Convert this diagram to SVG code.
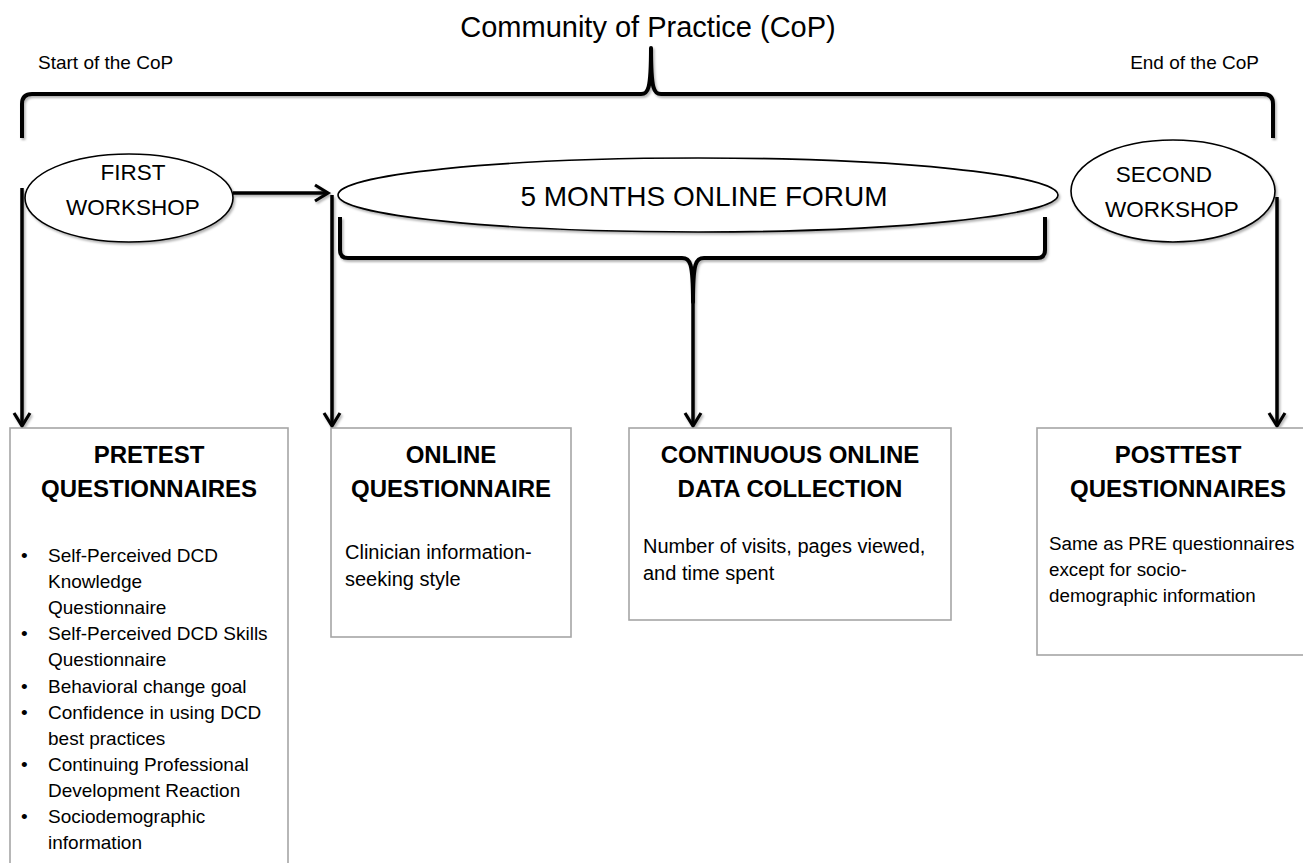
<svg xmlns="http://www.w3.org/2000/svg" width="1303" height="863" viewBox="0 0 1303 863">
  <style>
    text { font-family: "Liberation Sans", Arial, sans-serif; fill: #000; }
    .title { font-size: 29px; text-anchor: middle; }
    .note { font-size: 19px; }
    .oval { fill: #fff; stroke: #000; stroke-width: 1.6; }
    .oval-label { font-size: 22.5px; text-anchor: middle; }
    .forum-label { font-size: 28px; text-anchor: middle; }
    .box { fill: #fff; stroke: #a6a6a6; stroke-width: 1.6; }
    .head { font-size: 24px; font-weight: bold; text-anchor: middle; }
    .body { font-size: 20px; }
    .body-narrow { font-size: 18.8px; }
    .bullet { font-size: 19px; }
    .brace { fill: none; stroke: #000; stroke-width: 4; stroke-linejoin: round; stroke-linecap: butt; }
    .flow { fill: none; stroke: #000; stroke-width: 3.5; marker-end: url(#chevron); }
  </style>
  <defs>
    <marker id="chevron" viewBox="0 0 20 20" refX="16" refY="10" markerWidth="20" markerHeight="20" markerUnits="userSpaceOnUse" orient="auto">
      <path d="M3,2 L16,10 L3,18" fill="none" stroke="#000" stroke-width="3.2" stroke-linejoin="miter"/>
    </marker>
    <filter id="soft-shadow" x="-5%" y="-5%" width="110%" height="120%">
      <feDropShadow dx="1.5" dy="2" stdDeviation="1.2" flood-color="#000" flood-opacity="0.3"/>
    </filter>
  </defs>

  <rect width="1303" height="863" fill="#fff"/>

  <!-- headings above the timeline -->
  <g id="cop-title">
    <text class="title" x="648" y="37">Community of Practice (CoP)</text>
    <text class="note" x="38" y="69">Start of the CoP</text>
    <text class="note" x="1259" y="69" text-anchor="end">End of the CoP</text>
  </g>

  <!-- braces and arrows -->
  <g id="connectors" filter="url(#soft-shadow)">
    <path class="brace" d="M22,138 L22,104 Q22,94 32,94 L641,94 C648,94 651,90 651,48 C651,90 654,94 661,94 L1263,94 Q1273,94 1273,104 L1273,138"/>
    <path class="brace" d="M340,217 L340,250 Q340,258 348,258 L682,258 C690,258 693,262 693,302 C693,262 696,258 704,258 L1037,258 Q1045,258 1045,250 L1045,217"/>
    <path class="flow" d="M22,188 L22,426"/>
    <path class="flow" d="M233,193 L328,193"/>
    <path class="flow" d="M332,195 L332,426"/>
    <path class="flow" d="M693,298 L693,426"/>
    <path class="flow" d="M1277,197 L1277,426"/>
  </g>

  <g id="first-workshop">
    <ellipse class="oval" cx="129" cy="198" rx="104" ry="44" filter="url(#soft-shadow)"/>
    <text class="oval-label" x="133" y="180">FIRST</text>
    <text class="oval-label" x="133" y="215">WORKSHOP</text>
  </g>

  <g id="online-forum">
    <ellipse class="oval" cx="698" cy="195" rx="360" ry="37" filter="url(#soft-shadow)"/>
    <text class="forum-label" x="704" y="206">5 MONTHS ONLINE FORUM</text>
  </g>

  <g id="second-workshop">
    <ellipse class="oval" cx="1173" cy="191" rx="102" ry="51" filter="url(#soft-shadow)"/>
    <text class="oval-label" x="1164" y="182">SECOND</text>
    <text class="oval-label" x="1172" y="217">WORKSHOP</text>
  </g>

  <g id="pretest">
    <rect class="box" x="10" y="428" width="278" height="460"/>
    <text class="head" x="149" y="463">PRETEST</text>
    <text class="head" x="149" y="497">QUESTIONNAIRES</text>
    <g class="bullet">
      <text x="21" y="562">•</text>
      <text x="48" y="562">Self-Perceived DCD</text>
      <text x="48" y="588">Knowledge</text>
      <text x="48" y="614">Questionnaire</text>
      <text x="21" y="640">•</text>
      <text x="48" y="640">Self-Perceived DCD Skills</text>
      <text x="48" y="666">Questionnaire</text>
      <text x="21" y="693">•</text>
      <text x="48" y="693">Behavioral change goal</text>
      <text x="21" y="719">•</text>
      <text x="48" y="719">Confidence in using DCD</text>
      <text x="48" y="745">best practices</text>
      <text x="21" y="771">•</text>
      <text x="48" y="771">Continuing Professional</text>
      <text x="48" y="797">Development Reaction</text>
      <text x="21" y="823">•</text>
      <text x="48" y="823">Sociodemographic</text>
      <text x="48" y="849">information</text>
    </g>
  </g>

  <g id="online-questionnaire">
    <rect class="box" x="331" y="428" width="240" height="209"/>
    <text class="head" x="451" y="463">ONLINE</text>
    <text class="head" x="451" y="497">QUESTIONNAIRE</text>
    <text class="body" x="345" y="559">Clinician information-</text>
    <text class="body" x="345" y="586">seeking style</text>
  </g>

  <g id="continuous-collection">
    <rect class="box" x="629" y="428" width="322" height="192"/>
    <text class="head" x="790" y="463">CONTINUOUS ONLINE</text>
    <text class="head" x="790" y="497">DATA COLLECTION</text>
    <text class="body" x="643" y="553">Number of visits, pages viewed,</text>
    <text class="body" x="643" y="580">and time spent</text>
  </g>

  <g id="posttest">
    <rect class="box" x="1037" y="428" width="282" height="227"/>
    <text class="head" x="1178" y="463">POSTTEST</text>
    <text class="head" x="1178" y="497">QUESTIONNAIRES</text>
    <text class="body-narrow" x="1049" y="550">Same as PRE questionnaires</text>
    <text class="body-narrow" x="1049" y="576">except for socio-</text>
    <text class="body-narrow" x="1049" y="602">demographic information</text>
  </g>
</svg>
